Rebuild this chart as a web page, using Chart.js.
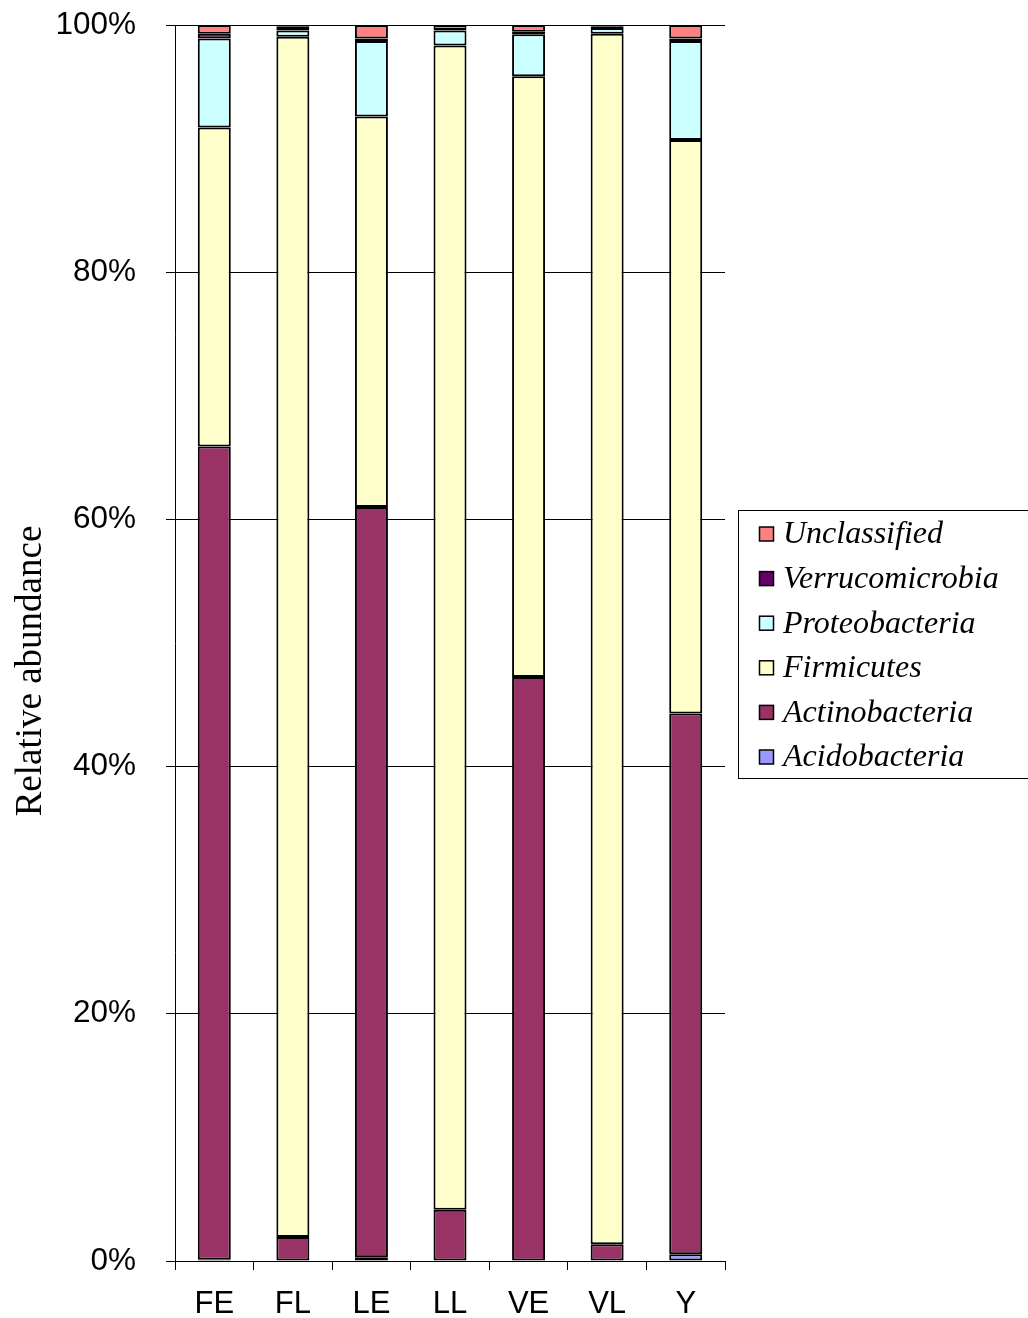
<!DOCTYPE html>
<html>
<head>
<meta charset="utf-8">
<script src="https://cdn.jsdelivr.net/npm/chart.js@4/dist/chart.umd.min.js"></script>
<style>
  html, body { margin: 0; padding: 0; background: #fff; }
  #wrap { width: 1028px; height: 1318px; position: relative; }
</style>
</head>
<body>
<div id="wrap"><canvas id="c" width="1028" height="1318"></canvas></div>
<script>
// Samples along the x axis
const categories = ['FE', 'FL', 'LE', 'LL', 'VE', 'VL', 'Y'];

// Relative abundance (%) of each phylum per sample, stacked bottom to top
const acidobacteria   = [0.10, 0.05, 0.30, 0.05, 0.05, 0.05, 0.55];
const actinobacteria  = [65.8, 1.90, 60.7, 4.10, 47.2, 1.30, 43.75];
const firmicutes      = [25.8, 97.1, 31.6, 94.2, 48.6, 97.95, 46.4];
const proteobacteria  = [7.20, 0.50, 6.10, 1.20, 3.40, 0.45, 8.00];
const verrucomicrobia = [0.40, 0.30, 0.20, 0.05, 0.20, 0.15, 0.20];
const unclassified    = [0.70, 0.15, 1.10, 0.40, 0.55, 0.10, 1.10];

// Y axis tick labels
const yTicks = ['0%', '20%', '40%', '60%', '80%', '100%'];

const seriesNames = ['Acidobacteria', 'Actinobacteria', 'Firmicutes', 'Proteobacteria', 'Verrucomicrobia', 'Unclassified'];
const seriesData = [acidobacteria, actinobacteria, firmicutes, proteobacteria, verrucomicrobia, unclassified];
const seriesColors = ['#9999FF', '#993366', '#FFFFCC', '#CCFFFF', '#660066', '#FF8080'];

const datasets = seriesNames.map((name, i) => ({
  label: name,
  data: seriesData[i],
  backgroundColor: seriesColors[i],
  borderColor: '#000000',
  borderWidth: 2,
  borderSkipped: false,
  barPercentage: 0.42,
  categoryPercentage: 1.0
}));

// Rotated serif axis title on the left
const yTitlePlugin = {
  id: 'yTitle',
  afterDraw(chart) {
    const ctx = chart.ctx;
    ctx.save();
    ctx.translate(31, 671);
    ctx.rotate(-Math.PI / 2);
    ctx.font = '37px "Liberation Serif", "Times New Roman", serif';
    ctx.fillStyle = '#000';
    ctx.textAlign = 'center';
    ctx.textBaseline = 'middle';
    ctx.fillText('Relative abundance', 0, 0);
    ctx.restore();
  }
};

// Boxed legend at the right, listed top stack first
const boxLegendPlugin = {
  id: 'boxLegend',
  afterDraw(chart) {
    const ctx = chart.ctx;
    const x0 = 738.5, y0 = 510.5, w = 300, h = 268;
    ctx.save();
    ctx.fillStyle = '#fff';
    ctx.fillRect(x0, y0, w, h);
    ctx.strokeStyle = '#000';
    ctx.lineWidth = 1;
    ctx.strokeRect(x0, y0, w, h);
    const ds = chart.data.datasets.slice().reverse();
    ctx.font = 'italic 32px "Liberation Serif", "Times New Roman", serif';
    ctx.textBaseline = 'middle';
    ctx.textAlign = 'left';
    ds.forEach((d, i) => {
      const cy = 534 + i * 44.6;
      ctx.fillStyle = d.backgroundColor;
      ctx.fillRect(759.5, cy - 7, 14, 14);
      ctx.strokeStyle = '#000';
      ctx.lineWidth = 1.5;
      ctx.strokeRect(759.5, cy - 7, 14, 14);
      ctx.fillStyle = '#000';
      ctx.fillText(d.label, 783, cy + 1);
    });
    ctx.restore();
  }
};

new Chart(document.getElementById('c'), {
  type: 'bar',
  data: { labels: categories, datasets },
  options: {
    responsive: false,
    animation: false,
    layout: { padding: { left: 0, right: 303, top: 0, bottom: 0 } },
    plugins: { legend: { display: false }, tooltip: { enabled: false } },
    scales: {
      x: {
        stacked: true,
        afterFit(scale) { scale.height = 57; },
        grid: {
          offset: true,
          drawOnChartArea: false,
          drawTicks: true,
          tickLength: 9,
          color: '#000',
          lineWidth: 1
        },
        border: { display: true, color: '#000', width: 1 },
        ticks: {
          color: '#000',
          padding: 16,
          font: { family: '"Liberation Sans", Arial, sans-serif', size: 31 }
        }
      },
      y: {
        stacked: true,
        min: 0,
        max: 100,
        afterFit(scale) {
          scale.width = 175;
          scale.paddingTop = 25;
          scale.paddingBottom = 18;
        },
        afterBuildTicks(scale) {
          scale.ticks = yTicks.map((t, i) => ({ value: i * 20 }));
        },
        grid: {
          color: '#000',
          lineWidth: 1,
          tickLength: 9
        },
        border: { display: true, color: '#000', width: 1 },
        ticks: {
          color: '#000',
          padding: 30,
          font: { family: '"Liberation Sans", Arial, sans-serif', size: 31.5 },
          callback: (v, i) => yTicks[i]
        }
      }
    }
  },
  plugins: [yTitlePlugin, boxLegendPlugin]
});
</script>
</body>
</html>
